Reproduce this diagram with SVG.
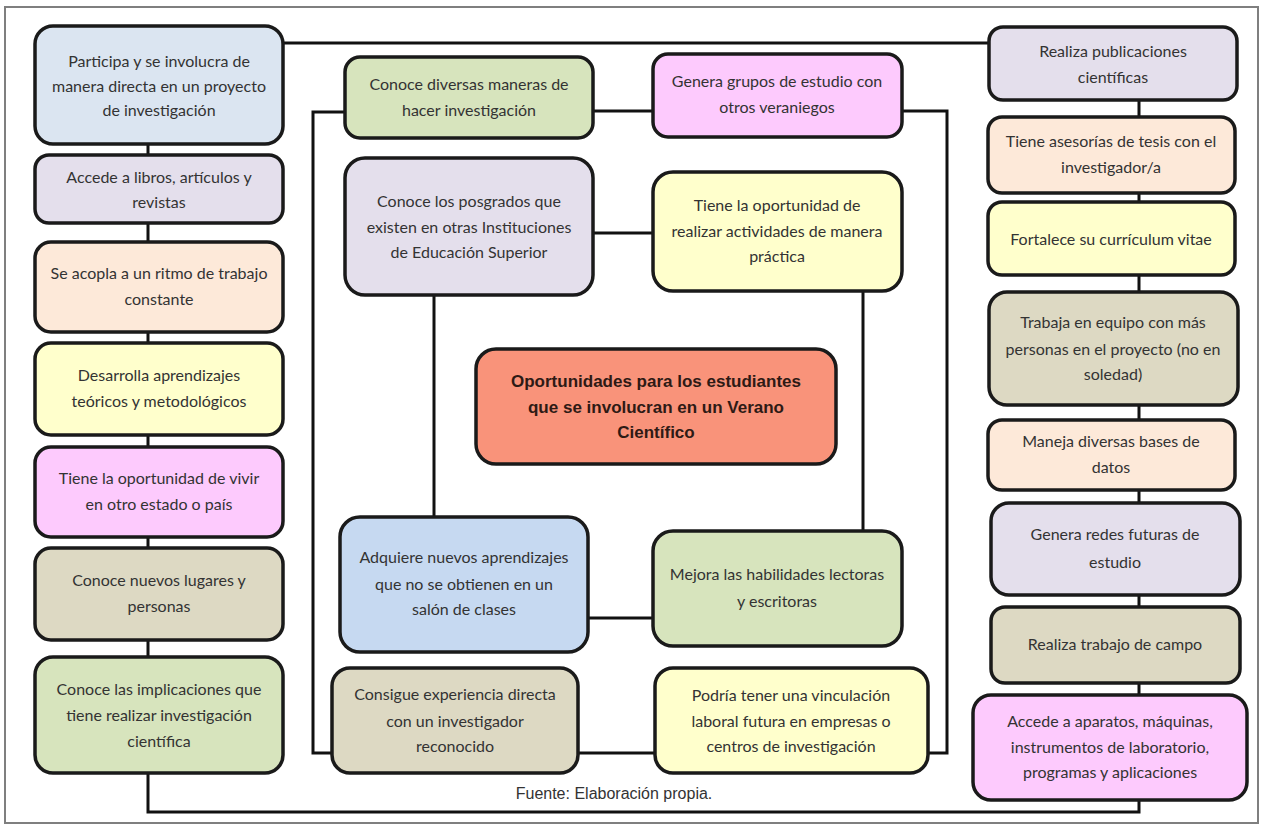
<svg xmlns="http://www.w3.org/2000/svg" width="1264" height="825" viewBox="0 0 1264 825">
<style>
.box{stroke:#1a1a1a;stroke-width:3.5}
.t{font-family:Lato,"Open Sans","Liberation Sans",sans-serif;font-size:16px;fill:#333333;text-anchor:middle}
.tb{font-family:"Liberation Sans",Arial,sans-serif;font-size:17px;font-weight:bold;fill:#2e1a15;text-anchor:middle}
.src{font-family:"Liberation Sans",Arial,sans-serif;font-size:16px;fill:#333;text-anchor:middle}
.con{fill:none;stroke:#111;stroke-width:3}
.blue{fill:#dbe5f1}.lav{fill:#e4dfec}.peach{fill:#fde9d9}.yel{fill:#ffffcc}.pink{fill:#fdcafd}.tan{fill:#ddd9c3}.green{fill:#d7e4bd}.blue2{fill:#c6d9f1}.salmon{fill:#f9937a}
</style>
<rect x="5" y="7" width="1253" height="816" fill="#ffffff" stroke="#7f7f7f" stroke-width="2"/>
<g id="connectors">
<path class="con" d="M283,43 H989"/>
<path class="con" d="M148,144 V812 H1139 V100"/>
<path class="con" d="M345,112 H313 V753 H947 V111 H902"/>
<path class="con" d="M593,111 H653"/>
<path class="con" d="M593,233 H653"/>
<path class="con" d="M434,295 V517"/>
<path class="con" d="M863,291 V531"/>
<path class="con" d="M588,618 H653"/>
</g>
<g id="L1"><rect class="box blue" x="35" y="26" width="248" height="118" rx="18"/>
<text class="t" x="159" y="67">Participa y se involucra de</text><text class="t" x="159" y="92">manera directa en un proyecto</text><text class="t" x="159" y="116">de investigación</text></g>
<g id="L2"><rect class="box lav" x="35" y="155" width="248" height="68" rx="14"/>
<text class="t" x="159" y="183">Accede a libros, artículos y</text><text class="t" x="159" y="208">revistas</text></g>
<g id="L3"><rect class="box peach" x="35" y="242" width="248" height="90" rx="16"/>
<text class="t" x="159" y="279">Se acopla a un ritmo de trabajo</text><text class="t" x="159" y="305">constante</text></g>
<g id="L4"><rect class="box yel" x="35" y="343" width="248" height="92" rx="16"/>
<text class="t" x="159" y="381">Desarrolla aprendizajes</text><text class="t" x="159" y="407">teóricos y metodológicos</text></g>
<g id="L5"><rect class="box pink" x="35" y="447" width="248" height="90" rx="16"/>
<text class="t" x="159" y="484">Tiene la oportunidad de vivir</text><text class="t" x="159" y="510">en otro estado o país</text></g>
<g id="L6"><rect class="box tan" x="35" y="548" width="248" height="92" rx="16"/>
<text class="t" x="159" y="586">Conoce nuevos lugares y</text><text class="t" x="159" y="612">personas</text></g>
<g id="L7"><rect class="box green" x="35" y="657" width="248" height="116" rx="18"/>
<text class="t" x="159" y="695">Conoce las implicaciones que</text><text class="t" x="159" y="721">tiene realizar investigación</text><text class="t" x="159" y="747">científica</text></g>
<g id="C1"><rect class="box green" x="345" y="57" width="248" height="81" rx="15"/>
<text class="t" x="469" y="90">Conoce diversas maneras de</text><text class="t" x="469" y="116">hacer investigación</text></g>
<g id="C2"><rect class="box lav" x="345" y="158" width="248" height="137" rx="20"/>
<text class="t" x="469" y="207">Conoce los posgrados que</text><text class="t" x="469" y="233">existen en otras Instituciones</text><text class="t" x="469" y="258">de Educación Superior</text></g>
<g id="C3"><rect class="box blue2" x="340" y="517" width="248" height="135" rx="20"/>
<text class="t" x="464" y="563">Adquiere nuevos aprendizajes</text><text class="t" x="464" y="590">que no se obtienen en un</text><text class="t" x="464" y="615">salón de clases</text></g>
<g id="C4"><rect class="box tan" x="332" y="668" width="246" height="105" rx="18"/>
<text class="t" x="455" y="700">Consigue experiencia directa</text><text class="t" x="455" y="727">con un investigador</text><text class="t" x="455" y="752">reconocido</text></g>
<g id="D1"><rect class="box pink" x="653" y="54" width="249" height="83" rx="15"/>
<text class="t" x="777" y="87">Genera grupos de estudio con</text><text class="t" x="777" y="113">otros veraniegos</text></g>
<g id="D2"><rect class="box yel" x="653" y="172" width="249" height="119" rx="20"/>
<text class="t" x="777" y="211">Tiene la oportunidad de</text><text class="t" x="777" y="237">realizar actividades de manera</text><text class="t" x="777" y="262">práctica</text></g>
<g id="D3"><rect class="box green" x="653" y="531" width="249" height="115" rx="20"/>
<text class="t" x="777" y="580">Mejora las habilidades lectoras</text><text class="t" x="777" y="607">y escritoras</text></g>
<g id="D4"><rect class="box yel" x="655" y="668" width="273" height="105" rx="18"/>
<text class="t" x="791" y="701">Podría tener una vinculación</text><text class="t" x="791" y="727">laboral futura en empresas o</text><text class="t" x="791" y="752">centros de investigación</text></g>
<g id="center"><rect class="box salmon" x="476" y="349" width="360" height="115" rx="20"/>
<text class="tb" x="656" y="387">Oportunidades para los estudiantes</text><text class="tb" x="656" y="413">que se involucran en un Verano</text><text class="tb" x="656" y="438">Científico</text></g>
<g id="R1"><rect class="box lav" x="989" y="27" width="248" height="73" rx="14"/>
<text class="t" x="1113" y="57">Realiza publicaciones</text><text class="t" x="1113" y="83">científicas</text></g>
<g id="R2"><rect class="box peach" x="988" y="117" width="247" height="76" rx="14"/>
<text class="t" x="1111" y="147">Tiene asesorías de tesis con el</text><text class="t" x="1111" y="173">investigador/a</text></g>
<g id="R3"><rect class="box yel" x="988" y="202" width="247" height="73" rx="14"/>
<text class="t" x="1111" y="245">Fortalece su currículum vitae</text></g>
<g id="R4"><rect class="box tan" x="989" y="292" width="249" height="113" rx="18"/>
<text class="t" x="1113" y="328">Trabaja en equipo con más</text><text class="t" x="1113" y="355">personas en el proyecto (no en</text><text class="t" x="1113" y="380">soledad)</text></g>
<g id="R5"><rect class="box peach" x="988" y="420" width="247" height="70" rx="14"/>
<text class="t" x="1111" y="447">Maneja diversas bases de</text><text class="t" x="1111" y="473">datos</text></g>
<g id="R6"><rect class="box lav" x="991" y="503" width="249" height="92" rx="18"/>
<text class="t" x="1115" y="540">Genera redes futuras de</text><text class="t" x="1115" y="568">estudio</text></g>
<g id="R7"><rect class="box tan" x="991" y="607" width="249" height="76" rx="14"/>
<text class="t" x="1115" y="650">Realiza trabajo de campo</text></g>
<g id="R8"><rect class="box pink" x="973" y="695" width="274" height="105" rx="18"/>
<text class="t" x="1110" y="727">Accede a aparatos, máquinas,</text><text class="t" x="1110" y="753">instrumentos de laboratorio,</text><text class="t" x="1110" y="778">programas y aplicaciones</text></g>
<text class="src" x="614" y="799">Fuente: Elaboración propia.</text>
</svg>
